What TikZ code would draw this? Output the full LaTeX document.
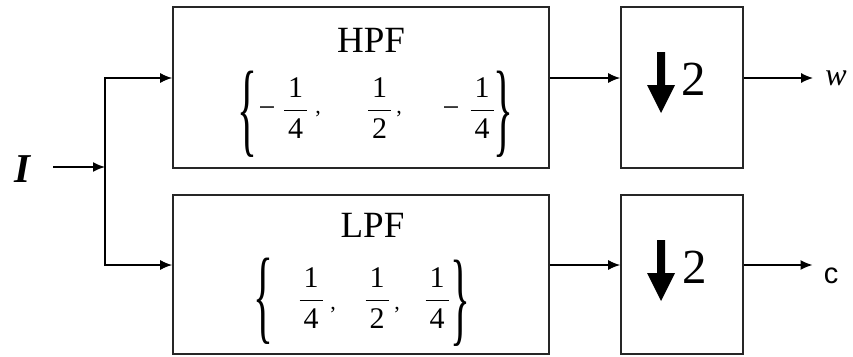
\RequirePackage{fix-cm}
\documentclass[tikz,border=0pt]{standalone}
\usepackage{graphicx}
\usepackage{fontspec}
\setmainfont{Liberation Serif}
\newfontfamily\labelsans{Liberation Sans}
\usetikzlibrary{arrows.meta}

% fraction with a bar slightly wider than its digits
\newcommand{\coef}[2]{$\displaystyle\frac{\mbox{\kern4pt#1\kern4pt}}{\mbox{\kern4pt#2\kern4pt}}$}
% tall curly braces: a text brace stretched vertically
\newcommand{\tallbrace}[1]{\scalebox{1.15}[2.9]{#1}}

\begin{document}
\begin{tikzpicture}[x=1pt,y=-1pt,
  block/.style={draw=black!85, line width=1.6pt, inner sep=0pt},
  conn/.style={line width=1.6pt, -{Latex[length=12pt,width=10pt]}},
  title/.style={anchor=base, inner sep=0pt, font=\fontsize{37}{37}\selectfont},
  coefnode/.style={anchor=base, inner sep=0pt, font=\fontsize{30}{30}\selectfont},
  minusnode/.style={anchor=base, inner sep=0pt, font=\fontsize{30}{30}\selectfont},
  commanode/.style={anchor=base, inner sep=0pt, font=\fontsize{22}{22}\selectfont},
  bracenode/.style={inner sep=0pt, font=\fontsize{36}{36}\selectfont},
  factor/.style={anchor=base, inner sep=0pt, font=\fontsize{49}{49}\selectfont},
]
\useasboundingbox (0,0) rectangle (853,356);

% filter and downsampler blocks
\node[block, minimum width=376pt, minimum height=161pt] (hpf) at (361,87.5) {};
\node[block, minimum width=376pt, minimum height=159pt] (lpf) at (361,274.5) {};
\node[block, minimum width=122pt, minimum height=161pt] (dsh) at (682,87.5) {};
\node[block, minimum width=122pt, minimum height=159pt] (dsl) at (682,274.5) {};

% signal levels of the two branches
\coordinate (ytop) at (0,78);
\coordinate (ybot) at (0,265);
\coordinate (split) at (105,167);

% high-pass filter contents
\node[title] (hpft) at (371,52) {HPF};
\node[bracenode] (hlb) at (247,114.5) {\tallbrace{\{}};
\node[minusnode] (hm1) at (267,117) {−};
\node[coefnode] (hc1) at (295.5,117.5) {\coef{1}{4}};
\node[commanode] (hk1) at (318,113) {,};
\node[coefnode] (hc2) at (379.5,117.5) {\coef{1}{2}};
\node[commanode] (hk2) at (399,113) {,};
\node[minusnode] (hm3) at (451,117) {−};
\node[coefnode] (hc3) at (482,117.5) {\coef{1}{4}};
\node[bracenode] (hrb) at (503,114.5) {\tallbrace{\}}};

% low-pass filter contents
\node[title] (lpft) at (372.5,237) {LPF};
\node[bracenode] (llb) at (263,301.5) {\tallbrace{\{}};
\node[coefnode] (lc1) at (311,307.5) {\coef{1}{4}};
\node[commanode] (lk1) at (333,309) {,};
\node[coefnode] (lc2) at (377,307.5) {\coef{1}{2}};
\node[commanode] (lk2) at (397,309) {,};
\node[coefnode] (lc3) at (437,307.5) {\coef{1}{4}};
\node[bracenode] (lrb) at (460,303) {\tallbrace{\}}};

% downsample-by-two symbols
\foreach \dy in {0,188} {
  \fill (657,52+\dy) -- (665,52+\dy) -- (665,85+\dy) -- (675,85+\dy)
        -- (661,113+\dy) -- (647,85+\dy) -- (657,85+\dy) -- cycle;
}
\node[factor] (fh) at (694,95) {2};
\node[factor] (fl) at (695,283) {2};

% input, outputs
\node[anchor=base, inner sep=0pt, font=\bfseries\itshape\fontsize{41}{41}\selectfont] (I) at (22,182) {I};
\node[anchor=base, inner sep=0pt, font=\itshape\fontsize{32}{32}\selectfont] (w) at (836,85) {w};
\node[anchor=base, inner sep=0pt, font=\labelsans\fontsize{29}{29}\selectfont] (c) at (831,283) {c};

% connectors
\draw[conn] ([xshift=23pt]I.east |- split) -- (split);
\draw[conn] (split) |- (hpf.west |- ytop);
\draw[conn] (split) |- (lpf.west |- ybot);
\draw[conn] (hpf.east |- ytop) -- (dsh.west |- ytop);
\draw[conn] (lpf.east |- ybot) -- (dsl.west |- ybot);
\draw[conn] (dsh.east |- ytop) -- ([xshift=-12pt]w.west |- ytop);
\draw[conn] (dsl.east |- ybot) -- ([xshift=-11pt]c.west |- ybot);
\end{tikzpicture}
\end{document}
